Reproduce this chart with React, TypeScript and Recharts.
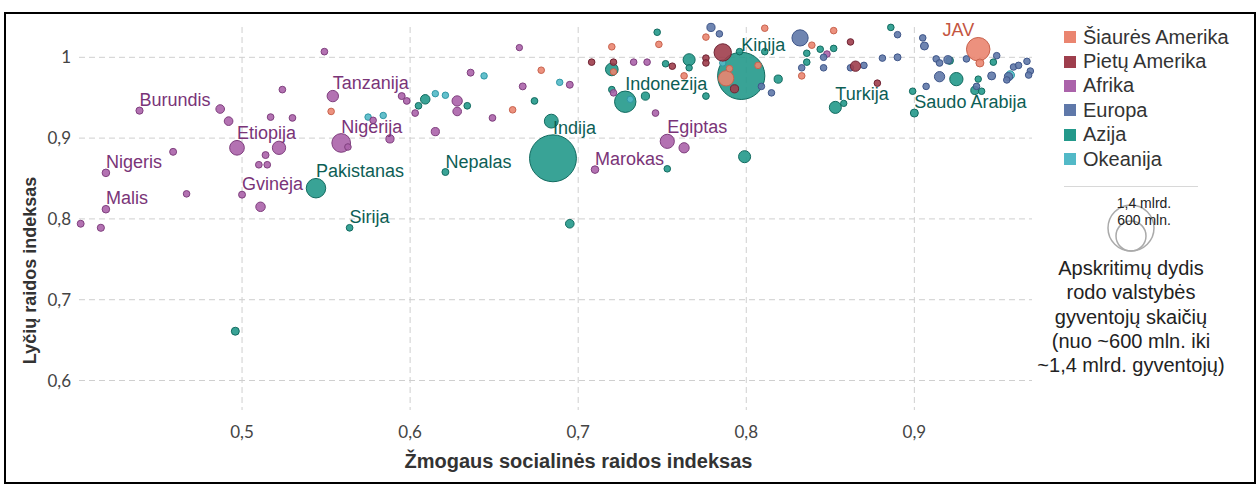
import React from 'react';
import { ScatterChart, Scatter, XAxis, YAxis, ZAxis, CartesianGrid, LabelList } from 'recharts';

type Pt = { x: number; y: number; pop: number; label?: string };

const FONT = '"Liberation Sans", Arial, sans-serif';

const northAmerica: Pt[] = [
  { x: 0.938, y: 1.010, pop: 330, label: 'JAV' },
  { x: 0.939, y: 0.993, pop: 18 },
  { x: 0.788, y: 0.974, pop: 128 },
  { x: 0.790, y: 0.986, pop: 5 },
  { x: 0.553, y: 0.933, pop: 5 },
  { x: 0.678, y: 0.984, pop: 5 },
  { x: 0.661, y: 0.935, pop: 5 },
  { x: 0.720, y: 1.013, pop: 5 },
  { x: 0.721, y: 0.982, pop: 3 },
  { x: 0.748, y: 1.016, pop: 5 },
  { x: 0.763, y: 0.977, pop: 5 },
  { x: 0.776, y: 1.025, pop: 5 },
  { x: 0.811, y: 1.036, pop: 5 },
  { x: 0.807, y: 0.990, pop: 5 },
  { x: 0.839, y: 1.015, pop: 5 },
  { x: 0.833, y: 0.977, pop: 5 },
  { x: 0.852, y: 1.033, pop: 5 },
];

const southAmerica: Pt[] = [
  { x: 0.786, y: 1.006, pop: 170 },
  { x: 0.708, y: 0.994, pop: 5 },
  { x: 0.721, y: 0.994, pop: 5 },
  { x: 0.756, y: 0.989, pop: 5 },
  { x: 0.776, y: 0.999, pop: 5 },
  { x: 0.776, y: 0.993, pop: 5 },
  { x: 0.793, y: 0.961, pop: 20 },
  { x: 0.862, y: 1.019, pop: 5 },
  { x: 0.865, y: 0.989, pop: 45 },
  { x: 0.878, y: 0.968, pop: 5 },
];

const africa: Pt[] = [
  { x: 0.549, y: 1.007, pop: 6 },
  { x: 0.554, y: 0.952, pop: 60, label: 'Tanzanija' },
  { x: 0.439, y: 0.934, pop: 10, label: 'Burundis' },
  { x: 0.487, y: 0.936, pop: 25 },
  { x: 0.492, y: 0.921, pop: 25 },
  { x: 0.524, y: 0.960, pop: 6 },
  { x: 0.517, y: 0.926, pop: 6 },
  { x: 0.530, y: 0.925, pop: 6 },
  { x: 0.497, y: 0.888, pop: 115, label: 'Etiopija' },
  { x: 0.522, y: 0.888, pop: 90 },
  { x: 0.514, y: 0.879, pop: 8 },
  { x: 0.510, y: 0.867, pop: 6 },
  { x: 0.515, y: 0.867, pop: 6 },
  { x: 0.459, y: 0.883, pop: 8 },
  { x: 0.419, y: 0.857, pop: 14, label: 'Nigeris' },
  { x: 0.419, y: 0.812, pop: 14, label: 'Malis' },
  { x: 0.467, y: 0.831, pop: 5 },
  { x: 0.500, y: 0.830, pop: 8, label: 'Gvinėja' },
  { x: 0.511, y: 0.815, pop: 35 },
  { x: 0.404, y: 0.794, pop: 8 },
  { x: 0.416, y: 0.789, pop: 10 },
  { x: 0.559, y: 0.894, pop: 200, label: 'Nigerija' },
  { x: 0.563, y: 0.889, pop: 5 },
  { x: 0.595, y: 0.952, pop: 8 },
  { x: 0.598, y: 0.946, pop: 6 },
  { x: 0.603, y: 0.931, pop: 6 },
  { x: 0.588, y: 0.899, pop: 20 },
  { x: 0.578, y: 0.922, pop: 5 },
  { x: 0.615, y: 0.908, pop: 20 },
  { x: 0.636, y: 0.981, pop: 8 },
  { x: 0.667, y: 0.964, pop: 8 },
  { x: 0.695, y: 0.966, pop: 8 },
  { x: 0.628, y: 0.946, pop: 45 },
  { x: 0.628, y: 0.933, pop: 25 },
  { x: 0.649, y: 0.925, pop: 6 },
  { x: 0.665, y: 1.012, pop: 3 },
  { x: 0.710, y: 0.861, pop: 14, label: 'Marokas' },
  { x: 0.753, y: 0.896, pop: 105, label: 'Egiptas' },
  { x: 0.763, y: 0.888, pop: 44 },
  { x: 0.746, y: 0.931, pop: 6 },
  { x: 0.721, y: 0.956, pop: 5 },
  { x: 0.733, y: 0.994, pop: 5 },
  { x: 0.741, y: 0.994, pop: 5 },
  { x: 0.848, y: 1.004, pop: 5 },
];

const europe: Pt[] = [
  { x: 0.779, y: 1.037, pop: 20 },
  { x: 0.784, y: 1.029, pop: 5 },
  { x: 0.832, y: 1.024, pop: 145 },
  { x: 0.833, y: 0.987, pop: 5 },
  { x: 0.809, y: 0.964, pop: 5 },
  { x: 0.815, y: 0.956, pop: 5 },
  { x: 0.846, y: 1.000, pop: 5 },
  { x: 0.846, y: 0.987, pop: 5 },
  { x: 0.862, y: 0.987, pop: 5 },
  { x: 0.870, y: 0.990, pop: 5 },
  { x: 0.881, y: 0.999, pop: 5 },
  { x: 0.890, y: 1.000, pop: 8 },
  { x: 0.890, y: 1.028, pop: 5 },
  { x: 0.905, y: 1.024, pop: 5 },
  { x: 0.906, y: 1.014, pop: 18 },
  { x: 0.913, y: 0.998, pop: 5 },
  { x: 0.915, y: 0.993, pop: 6 },
  { x: 0.920, y: 0.997, pop: 20 },
  { x: 0.915, y: 0.976, pop: 45 },
  { x: 0.907, y: 0.964, pop: 5 },
  { x: 0.931, y: 0.998, pop: 5 },
  { x: 0.949, y: 1.002, pop: 5 },
  { x: 0.946, y: 0.977, pop: 18 },
  { x: 0.937, y: 0.964, pop: 5 },
  { x: 0.956, y: 0.976, pop: 20 },
  { x: 0.955, y: 0.972, pop: 5 },
  { x: 0.959, y: 0.988, pop: 5 },
  { x: 0.962, y: 0.990, pop: 5 },
  { x: 0.967, y: 0.995, pop: 5 },
  { x: 0.969, y: 0.983, pop: 5 },
  { x: 0.968, y: 0.978, pop: 5 },
];

const asia: Pt[] = [
  { x: 0.797, y: 0.977, pop: 1400, label: 'Kinija' },
  { x: 0.685, y: 0.875, pop: 1380, label: 'Indija' },
  { x: 0.796, y: 1.007, pop: 5 },
  { x: 0.684, y: 0.921, pop: 100 },
  { x: 0.544, y: 0.838, pop: 220, label: 'Pakistanas' },
  { x: 0.564, y: 0.789, pop: 6, label: 'Sirija' },
  { x: 0.496, y: 0.661, pop: 18 },
  { x: 0.621, y: 0.858, pop: 8, label: 'Nepalas' },
  { x: 0.695, y: 0.794, pop: 25 },
  { x: 0.609, y: 0.948, pop: 35 },
  { x: 0.605, y: 0.940, pop: 6 },
  { x: 0.634, y: 0.940, pop: 6 },
  { x: 0.674, y: 0.946, pop: 6 },
  { x: 0.720, y: 0.985, pop: 80 },
  { x: 0.747, y: 1.031, pop: 5 },
  { x: 0.752, y: 0.992, pop: 5 },
  { x: 0.766, y: 0.997, pop: 70 },
  { x: 0.766, y: 0.987, pop: 4 },
  { x: 0.728, y: 0.945, pop: 270, label: 'Indonezija' },
  { x: 0.720, y: 0.960, pop: 5 },
  { x: 0.740, y: 0.952, pop: 20 },
  { x: 0.776, y: 0.952, pop: 6 },
  { x: 0.753, y: 0.862, pop: 5 },
  { x: 0.799, y: 0.877, pop: 70 },
  { x: 0.811, y: 1.007, pop: 5 },
  { x: 0.819, y: 0.973, pop: 20 },
  { x: 0.836, y: 1.005, pop: 5 },
  { x: 0.836, y: 0.994, pop: 5 },
  { x: 0.844, y: 1.010, pop: 5 },
  { x: 0.852, y: 1.011, pop: 5 },
  { x: 0.853, y: 0.938, pop: 70, label: 'Turkija' },
  { x: 0.858, y: 0.943, pop: 3 },
  { x: 0.886, y: 1.037, pop: 5 },
  { x: 0.899, y: 0.958, pop: 5 },
  { x: 0.900, y: 0.931, pop: 18, label: 'Saudo Arabija' },
  { x: 0.925, y: 0.973, pop: 90 },
  { x: 0.921, y: 0.996, pop: 15 },
  { x: 0.947, y: 0.994, pop: 5 },
  { x: 0.938, y: 0.973, pop: 4 },
  { x: 0.936, y: 0.959, pop: 20 },
  { x: 0.940, y: 0.958, pop: 5 },
];

const oceania: Pt[] = [
  { x: 0.615, y: 0.955, pop: 4 },
  { x: 0.621, y: 0.953, pop: 4 },
  { x: 0.575, y: 0.926, pop: 4 },
  { x: 0.584, y: 0.928, pop: 4 },
  { x: 0.644, y: 0.977, pop: 4 },
  { x: 0.689, y: 0.969, pop: 4 },
  { x: 0.731, y: 0.948, pop: 3 },
  { x: 0.786, y: 0.993, pop: 3 },
  { x: 0.957, y: 0.978, pop: 25 },
];

const regionNames = ['Šiaurės Amerika', 'Pietų Amerika', 'Afrika', 'Europa', 'Azija', 'Okeanija'];
const xTicks = [0.5, 0.6, 0.7, 0.8, 0.9];
const yTicks = [0.6, 0.7, 0.8, 0.9, 1];
const xTitle = 'Žmogaus socialinės raidos indeksas';
const yTitle = 'Lyčių raidos indeksas';
const sizeLabels = ['1,4 mlrd.', '600 mln.'];
const noteLines = ['Apskritimų dydis', 'rodo valstybės', 'gyventojų skaičių', '(nuo ~600 mln. iki', '~1,4 mlrd. gyventojų)'];
const labelsLeftOfPoint = ['JAV'];

const styles = [
  { fill: '#EA8570', stroke: '#C8634E', label: '#C4553F' },
  { fill: '#9E3E4D', stroke: '#6F2333', label: '#7A2A38' },
  { fill: '#AB63AA', stroke: '#7F3F7E', label: '#7A3478' },
  { fill: '#5F78A9', stroke: '#3F5689', label: '#3F5689' },
  { fill: '#23998B', stroke: '#126B60', label: '#0D5E55' },
  { fill: '#52B9C7', stroke: '#2F97A5', label: '#2F97A5' },
];

const seriesData = [northAmerica, southAmerica, africa, europe, asia, oceania];
const drawOrder = [4, 5, 2, 3, 1, 0];

const fmt = (v: number) => String(v).replace('.', ',');

const makeLabel = (color: string) => (props: any) => {
  const { value } = props;
  if (!value) return null;
  const vb = props.viewBox && props.viewBox.x != null ? props.viewBox : props;
  const cx = vb.x + vb.width / 2;
  const top = vb.y;
  const left = labelsLeftOfPoint.includes(value);
  return (
    <text
      x={left ? cx - 4 : cx}
      y={top - 1}
      textAnchor={left ? 'end' : 'start'}
      fill={color}
      fontSize={18}
      fontFamily={FONT}
    >
      {value}
    </text>
  );
};

export default function App() {
  return (
    <div style={{ position: 'absolute', left: 0, top: 0, width: 1260, height: 485, background: '#fff', overflow: 'hidden' }}>
      <ScatterChart width={1260} height={485} margin={{ top: 27, right: 228, bottom: 15, left: 19 }}>
        <CartesianGrid strokeDasharray="6 4" stroke="#cfcfcf" horizontalValues={yTicks} verticalValues={xTicks} />
        <XAxis
          type="number"
          dataKey="x"
          domain={[0.403, 0.97]}
          ticks={xTicks}
          interval={0}
          tickFormatter={fmt}
          axisLine={false}
          tickLine={false}
          tickMargin={10}
          height={60}
          tick={{ fill: '#444', fontSize: 17, fontFamily: 'Lato, sans-serif' }}
          label={{
            value: xTitle,
            content: (p: any) => {
              const vb = p.viewBox;
              return (
                <text x={vb.x + vb.width / 2 + 23} y={vb.y + vb.height - 2} textAnchor="middle" fontSize={20} fontWeight="bold" fill="#333" fontFamily={FONT}>
                  {xTitle}
                </text>
              );
            },
          }}
        />
        <YAxis
          type="number"
          dataKey="y"
          domain={[0.5635, 1.0375]}
          ticks={yTicks}
          interval={0}
          tickFormatter={fmt}
          axisLine={false}
          tickLine={false}
          tickMargin={2}
          width={60}
          tick={{ fill: '#444', fontSize: 17, fontFamily: 'Lato, sans-serif' }}
          label={{
            value: yTitle,
            content: (p: any) => {
              const vb = p.viewBox;
              const x = vb.x + vb.width - 43;
              const y = vb.y + vb.height / 2 + 52;
              return (
                <text x={x} y={y} transform={`rotate(-90 ${x} ${y})`} textAnchor="middle" fontSize={18} fontWeight="bold" fill="#333" fontFamily={FONT}>
                  {yTitle}
                </text>
              );
            },
          }}
        />
        <ZAxis type="number" dataKey="pop" domain={[0, 1400]} range={[28, 1750]} />
        {drawOrder.map((i) => (
          <Scatter
            key={regionNames[i]}
            name={regionNames[i]}
            data={seriesData[i]}
            fill={styles[i].fill}
            stroke={styles[i].stroke}
            strokeWidth={1}
            fillOpacity={0.9}
            isAnimationActive={false}
          >
            <LabelList dataKey="label" content={makeLabel(styles[i].label)} />
          </Scatter>
        ))}
      </ScatterChart>

      <div style={{ position: 'absolute', left: 1064, top: 25, fontFamily: FONT, fontSize: 20, color: '#333' }}>
        {regionNames.map((n, i) => (
          <div key={n} style={{ display: 'flex', alignItems: 'center', height: 24.4, whiteSpace: 'nowrap' }}>
            <span style={{ display: 'inline-block', width: 12, height: 12, background: styles[i].fill, marginRight: 7, flex: 'none' }} />
            <span>{n}</span>
          </div>
        ))}
      </div>
      <div style={{ position: 'absolute', left: 1064, top: 186, width: 134, height: 1, background: '#d8d8d8' }} />
      <svg style={{ position: 'absolute', left: 1080, top: 190, overflow: 'visible' }} width={100} height={64}>
        <circle cx={51} cy={38} r={23} fill="none" stroke="#aaa" strokeWidth={1.5} />
        <circle cx={51} cy={46} r={15} fill="none" stroke="#aaa" strokeWidth={1.5} />
        <text x={64} y={18} textAnchor="middle" fontSize={14} fill="#222" fontFamily={FONT}>{sizeLabels[0]}</text>
        <text x={64} y={35} textAnchor="middle" fontSize={14} fill="#222" fontFamily={FONT}>{sizeLabels[1]}</text>
      </svg>
      <div style={{ position: 'absolute', left: 1030, top: 256, width: 202, textAlign: 'center', fontFamily: FONT, fontSize: 20, lineHeight: '24.3px', color: '#222' }}>
        {noteLines.map((l) => (
          <div key={l} style={{ whiteSpace: 'nowrap' }}>{l}</div>
        ))}
      </div>
      <div style={{ position: 'absolute', left: 4, top: 12, width: 1252, height: 472, border: '2px solid #000', boxSizing: 'border-box', pointerEvents: 'none' }} />
    </div>
  );
}
